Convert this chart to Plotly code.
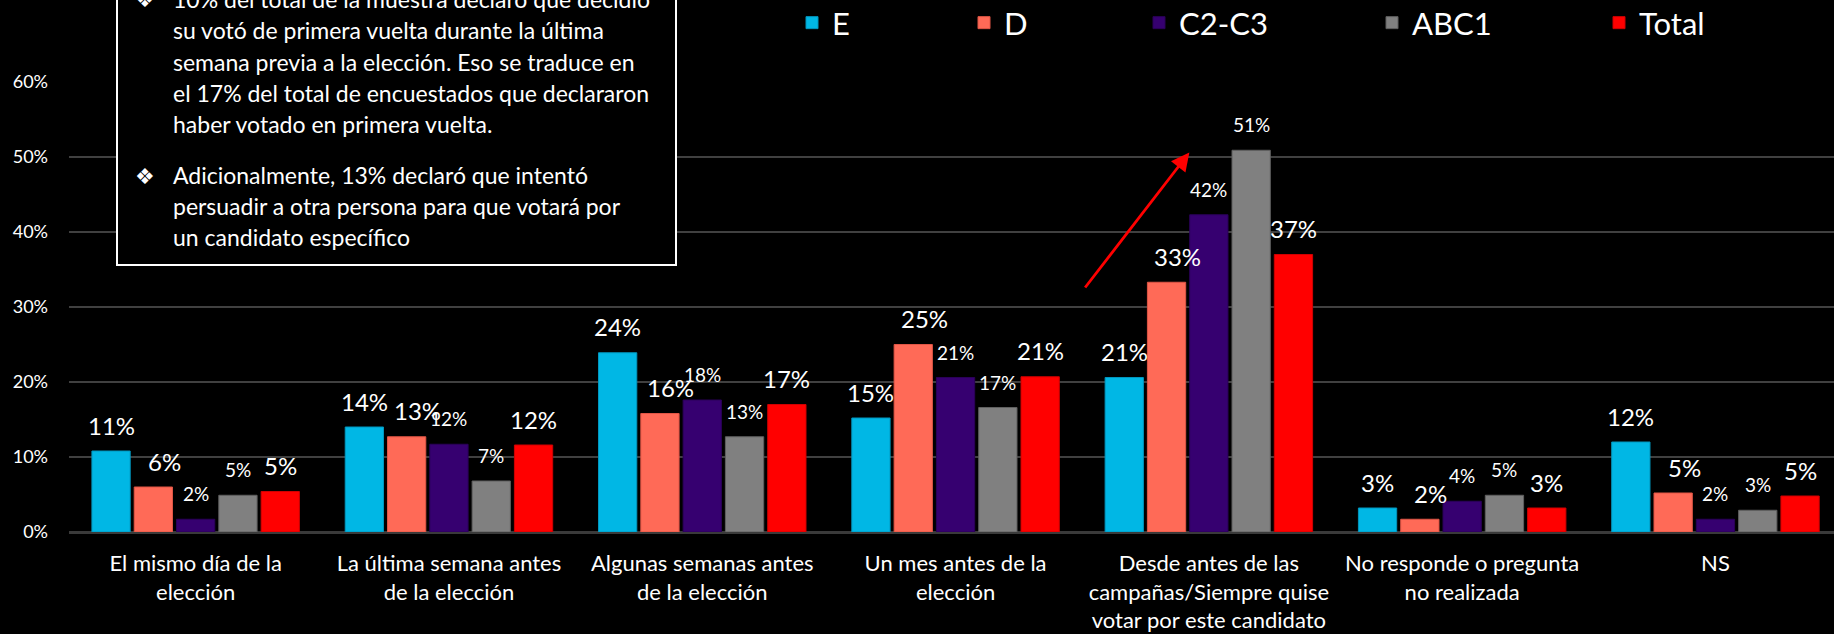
import plotly.graph_objects as go

# ---- data -------------------------------------------------------------
categories = [
    "El mismo día de la<br>elección",
    "La última semana antes<br>de la elección",
    "Algunas semanas antes<br>de la elección",
    "Un mes antes de la<br>elección",
    "Desde antes de las<br>campañas/Siempre quise<br>votar por este candidato",
    "No responde o pregunta<br>no realizada",
    "NS",
]
series_names = ["E", "D", "C2-C3", "ABC1", "Total"]
vals_E = [10.8, 14.0, 23.9, 15.2, 20.6, 3.2, 12.0]
vals_D = [6.0, 12.7, 15.8, 25.0, 33.3, 1.7, 5.2]
vals_C2C3 = [1.7, 11.7, 17.6, 20.6, 42.3, 4.1, 1.7]
vals_ABC1 = [4.9, 6.8, 12.7, 16.6, 50.9, 4.9, 2.9]
vals_Total = [5.4, 11.6, 17.0, 20.7, 37.0, 3.2, 4.8]
series_values = [vals_E, vals_D, vals_C2C3, vals_ABC1, vals_Total]

y_ticks = [0, 10, 20, 30, 40, 50, 60]
y_tick_text = [f"{t}%" for t in y_ticks]

note_lines = [
    "10% del total de la muestra declaró que decidió",
    "su votó de primera vuelta durante la última",
    "semana previa a la elección. Eso se traduce en",
    "el 17% del total de encuestados que declararon",
    "haber votado en primera vuelta.",
    "Adicionalmente, 13% declaró que intentó",
    "persuadir a otra persona para que votará por",
    "un candidato específico",
]

# ---- styling ----------------------------------------------------------
FONT = "Lato"
colors = ["#00B7E5", "#FF6A57", "#360070", "#808080", "#FF0000"]
edge_colors = ["#0096BE", "#E05545", "#2A0058", "#5F5F5F", "#D00000"]
big_label = [True, True, False, False, True]

W, H = 1834, 634
M_L, M_R, M_T, M_B = 69, 0, 82, 102
plot_w = W - M_L - M_R
plot_h = H - M_T - M_B
x_range = [-0.5, 6.468]
bargap = 0.165
group_px = plot_w / (x_range[1] - x_range[0])
slot_px = group_px * (1 - bargap) / len(series_names)


def px_x(px):
    return (px - M_L) / plot_w


def px_y(py):
    return (H - M_B - py) / plot_h


fig = go.Figure()

for i, (name, vals) in enumerate(zip(series_names, series_values)):
    fig.add_trace(go.Bar(
        x=categories, y=vals, name=name, showlegend=True,
        marker=dict(color=colors[i], line=dict(color=edge_colors[i], width=1)),
        legend="legend" if i == 0 else f"legend{i + 1}",
        hoverinfo="skip",
    ))

# value labels above each bar
annotations = []
for i, vals in enumerate(series_values):
    for cat, v in zip(categories, vals):
        dx = (i - 2) * slot_px + (11 if i == 1 else 0)
        annotations.append(dict(
            x=cat, y=v, xref="x", yref="y",
            text=f"{round(v)}%", showarrow=False,
            xshift=dx, yshift=26 if big_label[i] else 25.5,
            yanchor="middle", xanchor="center",
            font=dict(family=FONT, size=24 if big_label[i] else 19, color="white"),
        ))

# note box text
line_y = [-1, 30, 62, 93, 124, 175, 206, 237]
bullet_rows = [0, 5]
for k, (txt, ly) in enumerate(zip(note_lines, line_y)):
    annotations.append(dict(
        x=px_x(171), y=px_y(ly), xref="paper", yref="paper",
        text=txt, showarrow=False, xanchor="left", yanchor="middle",
        font=dict(family=FONT, size=23, color="white"),
    ))
for k in bullet_rows:
    annotations.append(dict(
        x=px_x(145), y=px_y(line_y[k] + 1), xref="paper", yref="paper",
        text="❖", showarrow=False, xanchor="center", yanchor="middle",
        font=dict(family="DejaVu Sans", size=22, color="white"),
    ))

# red arrow pointing up over the "Desde antes" group
annotations.append(dict(
    x=3.923, y=50.6, ax=3.507, ay=32.4, xref="x", yref="y", axref="x", ayref="y",
    text="", showarrow=True, arrowhead=2, arrowsize=1.3, arrowwidth=2.8,
    arrowcolor="#FF0000",
))

fig.update_layout(
    width=W, height=H,
    margin=dict(l=M_L, r=M_R, t=M_T, b=M_B, autoexpand=False),
    paper_bgcolor="black", plot_bgcolor="black",
    barmode="group", bargap=bargap, bargroupgap=0.095,
    font=dict(family=FONT, color="white"),
    showlegend=True,
    annotations=annotations,
    shapes=[dict(
        type="rect", xref="paper", yref="paper",
        x0=px_x(117), x1=px_x(676), y0=px_y(265), y1=px_y(-20),
        fillcolor="black", line=dict(color="white", width=2), layer="above",
    )],
    xaxis=dict(
        range=x_range, showgrid=False, showline=False, ticks="",
        tickfont=dict(family=FONT, size=22, color="white"),
        ticklabelstandoff=16,
    ),
    yaxis=dict(
        range=[0, 60], tickvals=y_ticks, ticktext=y_tick_text,
        showgrid=True, gridcolor="#404040", gridwidth=1.5,
        zeroline=True, zerolinecolor="#3A3A3A", zerolinewidth=3,
        tickfont=dict(family=FONT, size=18, color="white"),
        ticklabelstandoff=20,
    ),
)

legend_px = [792, 964, 1139, 1372, 1599]
for i, lx in enumerate(legend_px):
    key = "legend" if i == 0 else f"legend{i + 1}"
    fig.update_layout({key: dict(
        x=px_x(lx), y=px_y(23), xanchor="left", yanchor="middle",
        orientation="h", bgcolor="rgba(0,0,0,0)",
        font=dict(family=FONT, size=31, color="white"),
    )})

fig.write_html("out.html")
